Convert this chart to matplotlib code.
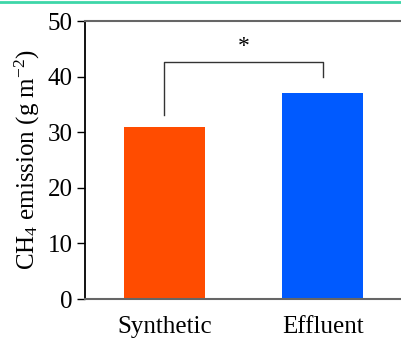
import matplotlib
matplotlib.use('Agg')
from matplotlib import pyplot as plt
from matplotlib.lines import Line2D

plt.rcParams['font.family'] = ['Liberation Serif', 'DejaVu Serif']
plt.rcParams['mathtext.default'] = 'regular'

groups = ['Synthetic', 'Effluent']
emission = [31, 37]
colors = ['#ff4c00', '#005aff']

# significance bracket (y values)
bracket_top = 42.6
bracket_left = 33.1
bracket_right = 39.9

fig = plt.figure(figsize=(4.02, 3.38), dpi=100)
ax = fig.add_axes([85 / 402, 1 - 299 / 338, 1 - 85 / 402, (299 - 21) / 338])

x = list(range(len(groups)))
ax.bar(x, emission, width=0.51, color=colors)

ax.plot([0, 0, 1, 1], [bracket_left, bracket_top, bracket_top, bracket_right],
        color='#333333', lw=1)
ax.text(0.5, bracket_top + 1.0, '*', ha='center', va='bottom', fontsize=17)

ax.set_xlim(-0.5, 1.5)
ax.set_ylim(0, 50)
ax.set_yticks([0, 10, 20, 30, 40, 50])
ax.set_xticks(x)
ax.set_xticklabels(groups, fontsize=18)
ax.tick_params(axis='y', direction='out', length=6, width=1, labelsize=18, pad=3)
ax.tick_params(axis='x', length=0, pad=12)
ax.set_ylabel('CH$_4$ emission (g m$^{-2}$)', fontsize=18, labelpad=4)

ax.spines['left'].set_color('black')
ax.spines['left'].set_linewidth(1.3)
ax.spines['bottom'].set_color('#666666')
ax.spines['top'].set_color('#666666')
ax.spines['top'].set_linewidth(1.5)
ax.spines['bottom'].set_linewidth(1.5)
ax.spines['right'].set_visible(False)

fig.add_artist(Line2D([0, 1], [1 - 1.5 / 338, 1 - 1.5 / 338], color='#3dd6a8', lw=2,
                      transform=fig.transFigure))

plt.savefig('out.png', dpi=100)
